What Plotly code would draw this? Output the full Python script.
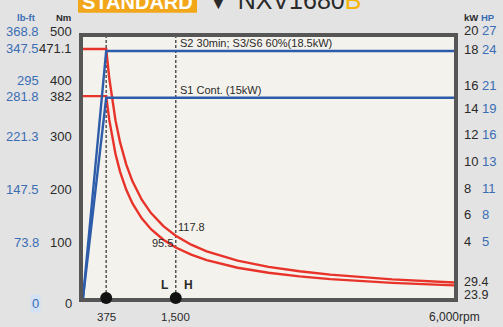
import plotly.graph_objects as go

# ---- data -------------------------------------------------------------
# speed points (rpm) along the torque curves
rpm = [0, 375, 425, 475, 525, 600, 700, 800, 950, 1100, 1300, 1500,
       1750, 2000, 2500, 3000, 3500, 4000, 5000, 6000]
# S2 30min / S3-S6 60% torque (Nm)
torque_s2 = [471.1, 471.1, 415.7, 371.9, 336.5, 294.4, 252.4, 220.8, 186.0,
             160.6, 135.9, 117.8, 100.9, 88.3, 70.7, 58.9, 50.5, 44.2, 35.3, 29.4]
# S1 continuous torque (Nm)
torque_s1 = [382.0, 382.0, 337.0, 301.6, 272.8, 238.7, 204.6, 179.0, 150.8,
             130.2, 110.2, 95.5, 81.9, 71.6, 57.3, 47.7, 40.9, 35.8, 28.6, 23.9]

# power curves (kW)
power_rpm = [0, 375, 6000]
power_s2 = [0, 18.5, 18.5]
power_s1 = [0, 15.0, 15.0]

# marked speeds: base speed and L/H winding switch
mark_rpm = [375, 1500]
mark_labels = ["375", "1,500"]

# axis tick labels
nm_ticks = [500, 471.1, 400, 382, 300, 200, 100, 0]
lbft_ticks = ["368.8", "347.5", "295", "281.8", "221.3", "147.5", "73.8", "0"]
kw_ticks = [20, 18, 16, 14, 12, 10, 8, 6, 4]
hp_ticks = ["27", "24", "21", "19", "16", "13", "11", "8", "5"]
end_torque = [29.4, 23.9]

NM_MAX = 493.8
KW_MAX = 19.55
X_MAX = 6000

# plot area in pixels
L, R, T, B = 83, 454, 37, 298
W, H = 503, 327


def px_x(p):
    return (p - L) / (R - L)


def px_y(p):
    return (B - p) / (B - T)


RED = "#e8332a"
BLUE = "#2d5daa"
LBL_BLUE = "#3a6db4"
DARK = "#2a2a2a"
FONT = "Liberation Sans, Arial"
TICK_SIZE = 13

fig = go.Figure()

# dashed guide lines at the marked speeds
for r in mark_rpm:
    fig.add_trace(go.Scatter(x=[r, r], y=[0, NM_MAX], mode="lines",
                             line=dict(color="#555555", width=1.5, dash="3px,2px"),
                             hoverinfo="skip", showlegend=False))

# power (right axis)
fig.add_trace(go.Scatter(x=power_rpm, y=power_s1, yaxis="y2", mode="lines",
                         line=dict(color=BLUE, width=2.4), showlegend=False))
fig.add_trace(go.Scatter(x=power_rpm, y=power_s2, yaxis="y2", mode="lines",
                         line=dict(color=BLUE, width=2.4), showlegend=False))

# torque (left axis)
fig.add_trace(go.Scatter(x=rpm, y=torque_s1, mode="lines",
                         line=dict(color=RED, width=2.4), showlegend=False))
fig.add_trace(go.Scatter(x=rpm, y=torque_s2, mode="lines",
                         line=dict(color=RED, width=2.4), showlegend=False))

# speed markers on the bottom edge
fig.add_trace(go.Scatter(x=mark_rpm, y=[0, 0], mode="markers",
                         marker=dict(color="#111111", size=12),
                         cliponaxis=False, showlegend=False))

ann = []

# left tick columns: lb-ft and Nm (positioned on the Nm scale)
nm_shift = {471.1: 0, 382: 0, 400: 6, 0: -5}
for v, lb in zip(nm_ticks, lbft_ticks):
    s = nm_shift.get(v, 2.5)
    yv = v / NM_MAX
    ann.append(dict(x=px_x(74), xref="paper", y=yv, yref="paper", text=f"{v:g}",
                    xanchor="right", yanchor="middle", yshift=s, showarrow=False,
                    font=dict(family=FONT, size=TICK_SIZE, color=DARK)))
    ann.append(dict(x=px_x(41), xref="paper", y=yv, yref="paper", text=lb,
                    xanchor="right", yanchor="middle", yshift=s, showarrow=False,
                    bgcolor="#d3e2f2" if lb == "0" else None,
                    font=dict(family=FONT, size=TICK_SIZE, color=LBL_BLUE)))

# right tick columns: kW and HP (positioned on the kW scale)
kw_shift = {20: 0, 18: 8, 16: -1.5}
for v, hp in zip(kw_ticks, hp_ticks):
    s = kw_shift.get(v, 3)
    yv = v / KW_MAX
    ann.append(dict(x=px_x(462), xref="paper", y=yv, yref="paper", text=f"{v}",
                    xanchor="left", yanchor="middle", yshift=s, showarrow=False,
                    font=dict(family=FONT, size=TICK_SIZE, color=DARK)))
    ann.append(dict(x=px_x(480), xref="paper", y=yv, yref="paper", text=hp,
                    xanchor="left", yanchor="middle", yshift=s, showarrow=False,
                    font=dict(family=FONT, size=TICK_SIZE, color=LBL_BLUE)))

# torque values at top speed
for v, s in zip(end_torque, [0, -9.5]):
    ann.append(dict(x=px_x(462), xref="paper", y=v / NM_MAX, yref="paper",
                    text=f"{v:g}", xanchor="left", yanchor="middle", yshift=s,
                    showarrow=False,
                    font=dict(family=FONT, size=12.5, color=DARK)))

# axis headers
for x, txt, col in [(38, "lb-ft", LBL_BLUE), (73, "Nm", DARK),
                    (462, "kW", DARK), (479, "HP", LBL_BLUE)]:
    ann.append(dict(x=px_x(x), xref="paper", y=px_y(17), yref="paper",
                    text=f"<b>{txt}</b>", showarrow=False,
                    xanchor="right" if x < 100 else "left", yanchor="middle",
                    font=dict(family=FONT, size=9.5, color=col)))

# speed labels
for r, t in zip(mark_rpm, mark_labels):
    ann.append(dict(x=r, xref="x", y=px_y(317), yref="paper", text=t,
                    showarrow=False, xanchor="center", yanchor="middle",
                    font=dict(family=FONT, size=11.5, color=DARK)))
ann.append(dict(x=px_x(427), xref="paper", y=px_y(317), yref="paper",
                text="6,000rpm", showarrow=False, xanchor="left", yanchor="middle",
                font=dict(family=FONT, size=12, color=DARK)))

# curve labels
ann.append(dict(x=1500, xref="x", y=power_s2[-1], yref="y2",
                text="S2 30min; S3/S6 60%(18.5kW)", showarrow=False,
                xanchor="left", yanchor="bottom", xshift=2, yshift=0,
                font=dict(family=FONT, size=11, color=DARK)))
ann.append(dict(x=1500, xref="x", y=power_s1[-1], yref="y2",
                text="S1 Cont. (15kW)", showarrow=False,
                xanchor="left", yanchor="bottom", xshift=2, yshift=0,
                font=dict(family=FONT, size=11, color=DARK)))
i15 = rpm.index(1500)
ann.append(dict(x=1500, xref="x", y=torque_s2[i15], yref="y",
                text=f"{torque_s2[i15]:g}", showarrow=False,
                xanchor="left", yanchor="middle", xshift=0, yshift=9,
                font=dict(family=FONT, size=11, color=DARK)))
ann.append(dict(x=1500, xref="x", y=torque_s1[i15], yref="y",
                text=f"{torque_s1[i15]:g}", showarrow=False,
                xanchor="right", yanchor="middle", xshift=-1, yshift=5,
                font=dict(family=FONT, size=11, color=DARK)))

# winding labels either side of the switch speed
ann.append(dict(x=1500, xref="x", y=px_y(285), yref="paper", text="<b>L</b>",
                showarrow=False, xanchor="right", yanchor="middle", xshift=-6,
                font=dict(family=FONT, size=12, color=DARK)))
ann.append(dict(x=1500, xref="x", y=px_y(285), yref="paper", text="<b>H</b>",
                showarrow=False, xanchor="left", yanchor="middle", xshift=6,
                font=dict(family=FONT, size=12, color=DARK)))

# model header
ann.append(dict(x=px_x(137), xref="paper", y=px_y(2), yref="paper",
                text="<b>STANDARD</b>", showarrow=False,
                xanchor="center", yanchor="middle",
                font=dict(family=FONT, size=20, color="#ffffff")))
ann.append(dict(x=px_x(204), xref="paper", y=px_y(0), yref="paper",
                text="▼ NXV1680<span style='color:#f5b400'>B</span>",
                showarrow=False, xanchor="left", yanchor="middle",
                font=dict(family=FONT, size=25, color=DARK)))

shapes = [dict(type="rect", xref="paper", yref="paper",
               x0=px_x(78), x1=px_x(197), y0=px_y(12.7), y1=px_y(-10),
               fillcolor="#f2a71b", line=dict(width=0), layer="above")]

axis_common = dict(showgrid=False, zeroline=False, showticklabels=False,
                   ticks="", showline=True, mirror=True, linewidth=4,
                   linecolor="#565656", layer="below traces", fixedrange=True)

fig.update_layout(
    width=W, height=H,
    margin=dict(l=L, r=W - R, t=T, b=H - B),
    paper_bgcolor="#e3e3e3",
    plot_bgcolor="#f4f2ec",
    xaxis=dict(range=[0, X_MAX], **axis_common),
    yaxis=dict(range=[0, NM_MAX], **axis_common),
    yaxis2=dict(range=[0, KW_MAX], overlaying="y", side="right",
                showgrid=False, zeroline=False, showticklabels=False,
                showline=False, fixedrange=True),
    annotations=ann,
    shapes=shapes,
    showlegend=False,
)

fig.write_html("out.html")
